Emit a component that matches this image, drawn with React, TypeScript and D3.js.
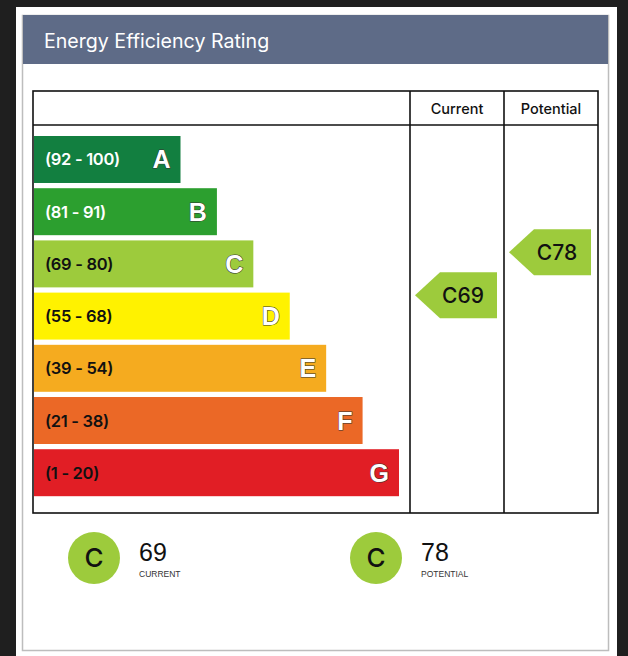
import React from "react";
import * as d3 from "d3";

const bands = ["A", "B", "C", "D", "E", "F", "G"];
const ranges = ["(92 - 100)", "(81 - 91)", "(69 - 80)", "(55 - 68)", "(39 - 54)", "(21 - 38)", "(1 - 20)"];
const bandColors = ["#127f40", "#2c9f2f", "#9dcb3c", "#fff200", "#f5ab1f", "#eb6826", "#e11e25"];
const labelColors = ["#ffffff", "#ffffff", "#111111", "#111111", "#111111", "#111111", "#111111"];
const columns = ["Current", "Potential"];
const scores = [69, 78];
const scoreBands = ["C", "C"];
const summaryLabels = ["CURRENT", "POTENTIAL"];

const FONT = "'Liberation Sans', Arial, Helvetica, sans-serif";
const INTER = "Inter, 'Liberation Sans', sans-serif";

export default function App() {
  const W = 628, H = 656;
  const tL = 33, tR = 598, tT = 91, tB = 513, hB = 125;
  const c1 = 410, c2 = 504;

  const y = d3.scaleBand<string>().domain(bands).range([136, 496.2]).paddingInner(0.1).paddingOuter(0);
  const barW = d3.scaleLinear().domain([0, 6]).range([146.5, 365]);
  const scoreY = d3.scaleLinear().domain([0, 100]).range([625, 147]);
  const colX = [c1, c2, tR];

  const arrow = (x0: number, x1: number, cy: number, h: number) => {
    const tip = 25;
    const p = d3.path();
    p.moveTo(x0, cy);
    p.lineTo(x0 + tip, cy - h / 2);
    p.lineTo(x1, cy - h / 2);
    p.lineTo(x1, cy + h / 2);
    p.lineTo(x0 + tip, cy + h / 2);
    p.closePath();
    return p.toString();
  };

  return (
    <svg width={W} height={H} style={{ position: "absolute", left: 0, top: 0 }} fontFamily={FONT}>
      <rect x={0} y={0} width={W} height={H} fill="#1f1f1f" />
      <rect x={16} y={7} width={601} height={H - 7} fill="#ffffff" />
      <rect x={22.5} y={15.5} width={586} height={635} fill="#ffffff" stroke="#bdbdbd" strokeWidth={1.5} />
      <rect x={23} y={15} width={585} height={49} fill="#5e6b87" />
      <text x={44} y={48} fill="#ffffff" fontSize={19.6} fontFamily={INTER}>Energy Efficiency Rating</text>

      {/* table */}
      <rect x={tL} y={tT} width={tR - tL} height={tB - tT} fill="none" stroke="#111" strokeWidth={1.6} />
      <line x1={tL} x2={tR} y1={hB} y2={hB} stroke="#111" strokeWidth={1.6} />
      <line x1={c1} x2={c1} y1={tT} y2={tB} stroke="#111" strokeWidth={1.6} />
      <line x1={c2} x2={c2} y1={tT} y2={tB} stroke="#111" strokeWidth={1.6} />
      {columns.map((c, i) => (
        <text key={c} x={(colX[i] + colX[i + 1]) / 2} y={114} textAnchor="middle" fontSize={14.5} fontWeight={500} fontFamily={INTER} fill="#111">{c}</text>
      ))}

      {bands.map((b, i) => {
        const yy = y(b)!;
        const bh = y.bandwidth();
        const w = barW(i);
        return (
          <g key={b}>
            <rect x={34} y={yy} width={w} height={bh} fill={bandColors[i]} />
            <text x={45} y={yy + bh / 2 + 6} fontSize={16.5} fontWeight={600} fontFamily={INTER} fill={labelColors[i]} letterSpacing={-0.3}>{ranges[i]}</text>
            <text x={34 + w - 10} y={yy + bh / 2 + 9} fontSize={25} fontWeight="bold" textAnchor="end" fill="#ffffff" stroke="#333" strokeWidth={1} paintOrder="stroke">{b}</text>
          </g>
        );
      })}

      {scores.map((s, i) => {
        const cy = scoreY(s);
        const x0 = colX[i] + 5;
        const x1 = colX[i + 1] - 7;
        const col = bandColors[bands.indexOf(scoreBands[i])];
        return (
          <g key={i}>
            <path d={arrow(x0, x1, cy, 46)} fill={col} />
            <text x={(x0 + x1) / 2 + 7} y={cy + 7.5} textAnchor="middle" fontSize={21} fontWeight={500} fontFamily={INTER} fill="#111">{scoreBands[i] + s}</text>
          </g>
        );
      })}

      {scores.map((s, i) => {
        const cx = 94 + i * 282;
        const col = bandColors[bands.indexOf(scoreBands[i])];
        return (
          <g key={"s" + i}>
            <circle cx={cx} cy={558} r={26} fill={col} />
            <text x={cx} y={567} textAnchor="middle" fontSize={26} fontWeight={500} fontFamily={INTER} fill="#111">{scoreBands[i]}</text>
            <text x={cx + 45} y={561} fontSize={25} fill="#111">{s}</text>
            <text x={cx + 45} y={577} fontSize={8.5} fill="#333">{summaryLabels[i]}</text>
          </g>
        );
      })}
    </svg>
  );
}
